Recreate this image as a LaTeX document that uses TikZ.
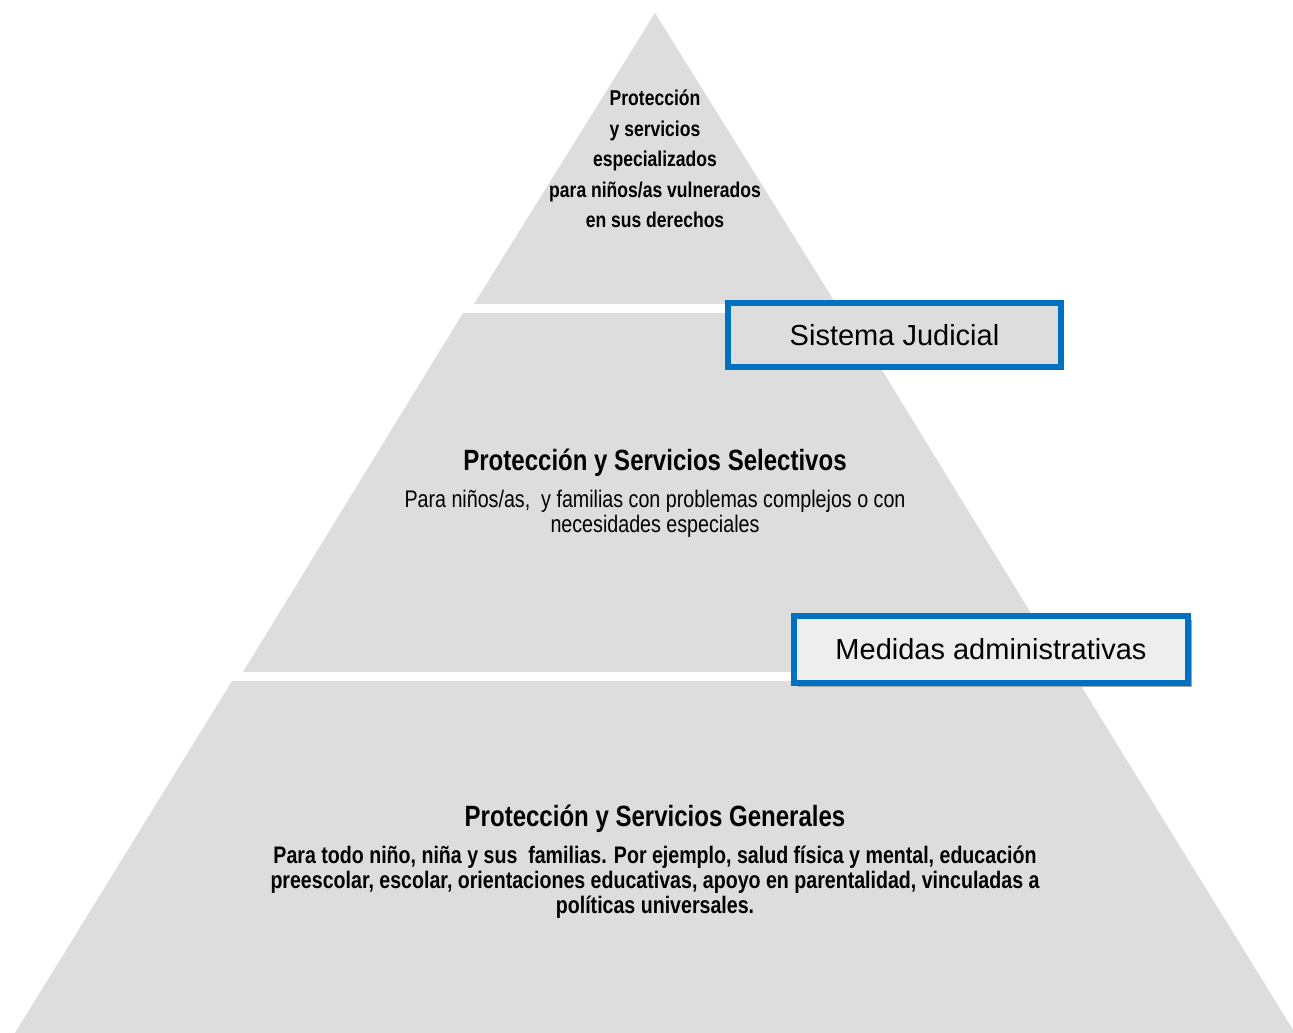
\documentclass[tikz,border=0pt]{standalone}
\usepackage{fontspec}
\setmainfont{Liberation Sans}
\newfontfamily\narrowfont[FakeStretch=0.82]{Liberation Sans}
\usetikzlibrary{positioning,shadows}
\definecolor{tiergray}{HTML}{DDDDDD}
\definecolor{boxblue}{HTML}{0070C0}
\definecolor{boxfill}{HTML}{EEEEEE}

\begin{document}
\begin{tikzpicture}[x=1pt,y=-1pt,align=center,node distance=52pt]
\tikzstyle{tier}=[fill=tiergray]
\tikzstyle{toptext}=[font=\narrowfont\bfseries\fontsize{21.4}{30.5}\selectfont]
\tikzstyle{title}=[font=\narrowfont\bfseries\fontsize{29.3}{31}\selectfont]
\tikzstyle{body}=[font=\narrowfont\fontsize{24}{25}\selectfont]
\tikzstyle{boldbody}=[font=\narrowfont\bfseries\fontsize{23.9}{25}\selectfont]
\tikzstyle{measure}=[draw=boxblue,line width=6pt,inner sep=0pt,font=\fontsize{29}{32}\selectfont]

\useasboundingbox (0,0) rectangle (1293,1033);

% pyramid tiers
\fill[tier] (655,13) -- (836,304) -- (474,304) -- cycle;
\fill[tier] (463,313) -- (847,313) -- (1067,672) -- (243,672) -- cycle;
\fill[tier] (232,681) -- (1078,681) -- (1295,1033) -- (15,1033) -- cycle;

% texts
\node[toptext] (special) at (655,159) {Protección\\y servicios\\especializados\\para niños/as vulnerados\\en sus derechos};

\node[title] (selective) at (655,463) {Protección y Servicios Selectivos};
\node[body] (selectivetxt) [below of = selective, node distance=51pt] {Para niños/as,~ y familias con problemas complejos o con\\necesidades especiales};

\node[title] (general) at (655,819) {Protección y Servicios Generales};
\node[boldbody] (generaltxt) [below of = general, node distance=63pt] {Para todo niño, niña y sus~ familias. Por ejemplo, salud física y mental, educación\\preescolar, escolar, orientaciones educativas, apoyo en parentalidad, vinculadas a\\políticas universales.};

% boxes
\node[measure, fill=tiergray, minimum width=333pt, minimum height=64pt] (judicial) at (894.5,335) {Sistema Judicial};
\node[measure, fill=boxfill, minimum width=394pt, minimum height=67pt,
  drop shadow={shadow xshift=4pt, shadow yshift=-4pt, fill=black!35, opacity=1}] (admin) at (991,649.5) {Medidas administrativas};
\end{tikzpicture}
\end{document}
